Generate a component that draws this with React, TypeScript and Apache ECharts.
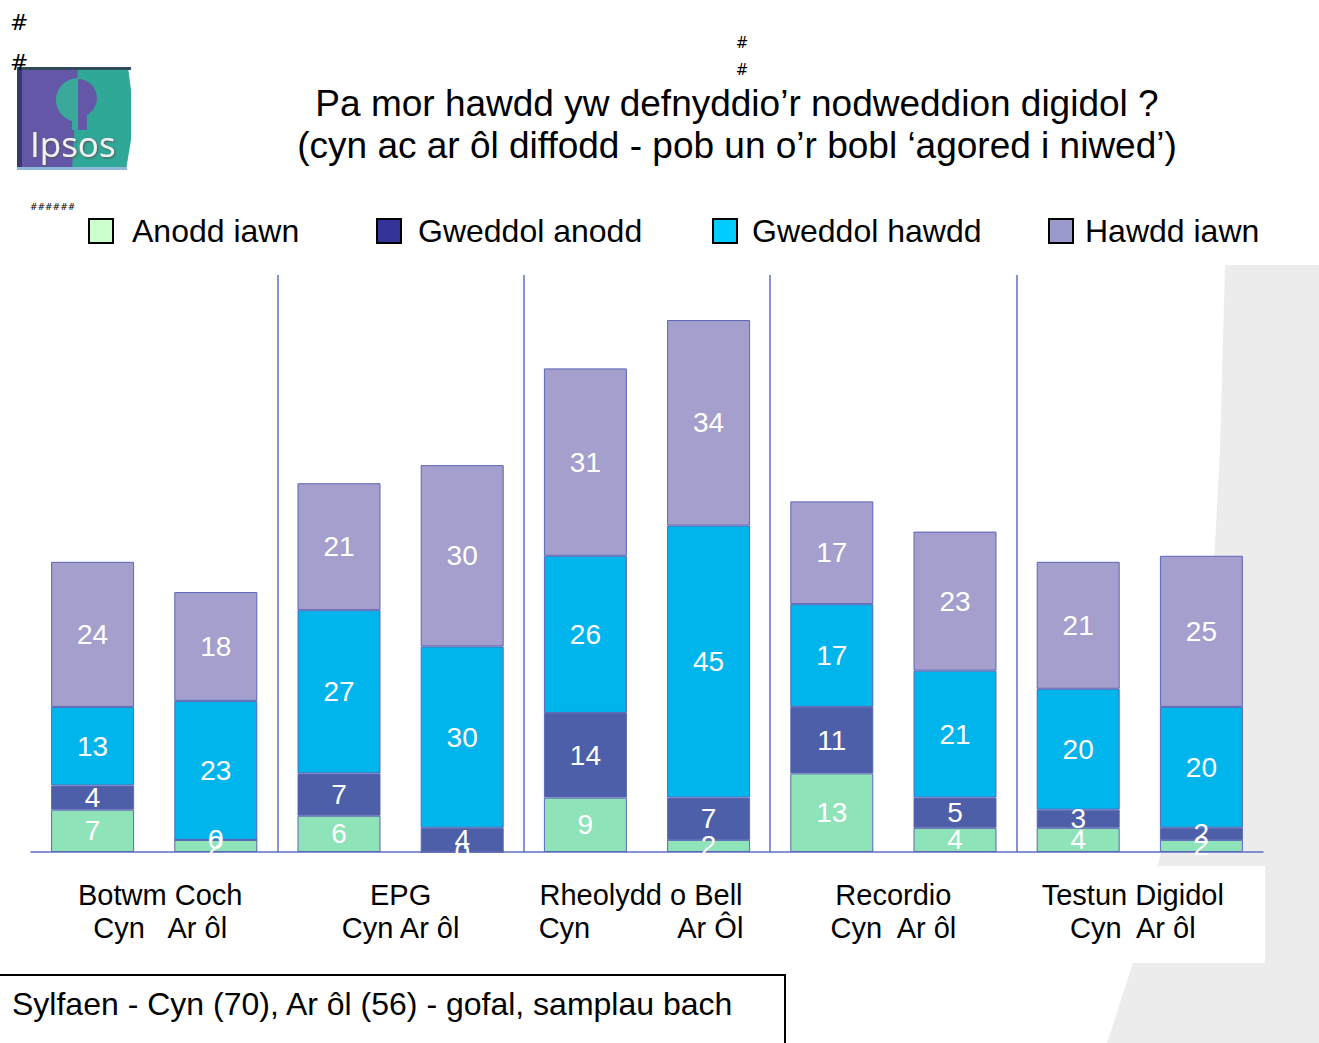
import React, { useEffect, useRef } from "react";
import * as echarts from "echarts";

const categories = [
  "Botwm Coch Cyn", "Botwm Coch Ar ôl",
  "EPG Cyn", "EPG Ar ôl",
  "Rheolydd o Bell Cyn", "Rheolydd o Bell Ar Ôl",
  "Recordio Cyn", "Recordio Ar ôl",
  "Testun Digidol Cyn", "Testun Digidol Ar ôl",
];
const groupLabels = [
  "Botwm Coch\nCyn   Ar ôl",
  "EPG\nCyn Ar ôl",
  "Rheolydd o Bell\nCyn           Ar Ôl",
  "Recordio\nCyn  Ar ôl",
  "Testun Digidol\nCyn  Ar ôl",
];
const seriesNames = ["Anodd iawn", "Gweddol anodd", "Gweddol hawdd", "Hawdd iawn"];
const anoddIawn = [7, 2, 6, 0, 9, 2, 13, 4, 4, 2];
const gweddolAnodd = [4, 0, 7, 4, 14, 7, 11, 5, 3, 2];
const gweddolHawdd = [13, 23, 27, 30, 26, 45, 17, 21, 20, 20];
const hawddIawn = [24, 18, 21, 30, 31, 34, 17, 23, 21, 25];
const seriesValues = [anoddIawn, gweddolAnodd, gweddolHawdd, hawddIawn];

const barColors = ["#8fe3b9", "#4d5fa8", "#00b4ec", "#a49fcc"];
const legendColors = ["#ccffcc", "#333399", "#00ccff", "#9999cc"];
const legendLefts = [88, 376, 712, 1048];
const legendTextGap = [14, 12, 10, 7];
const groupLabelPadding = [
  [0, 0, 0, 12],
  [0, 0, 0, 0],
  [0, 12, 0, 0],
  [0, 0, 0, 0],
  [0, 14, 0, 0],
];

const FONT = "Liberation Sans, Arial, sans-serif";

export default function App() {
  const ref = useRef<HTMLDivElement>(null);
  useEffect(() => {
    document.body.style.margin = "0";
    const chart = echarts.init(ref.current!, null, { renderer: "svg" });
    const axisColor = "#5b6fc2";
    const option: any = {
      animation: false,
      backgroundColor: "#ffffff",
      textStyle: { fontFamily: FONT },
      grid: { left: 31, right: 56, top: 275, bottom: 191, containLabel: false },
      legend: seriesNames.map((n, i) => ({
        data: [{ name: n, itemStyle: { color: legendColors[i], borderColor: "#000", borderWidth: 2 } }],
        left: legendLefts[i],
        top: 215,
        padding: 0,
        itemWidth: 24,
        itemHeight: 24,
        icon: "rect",
        selectedMode: false,
        textStyle: { fontSize: 32, color: "#000", fontFamily: FONT, padding: [0, 0, 0, legendTextGap[i]] },
      })),
      xAxis: [
        {
          type: "category",
          data: categories,
          axisLine: { show: false },
          axisTick: { show: false },
          axisLabel: { show: false },
          splitLine: { show: false },
        },
        {
          type: "category",
          data: groupLabels.map((g, i) => ({ value: g, textStyle: { padding: groupLabelPadding[i] } })),
          position: "bottom",
          axisLine: { show: true, lineStyle: { color: axisColor, width: 1.5 } },
          axisTick: { show: false },
          axisLabel: {
            interval: 0,
            color: "#000",
            fontSize: 29,
            lineHeight: 33,
            margin: 26,
            fontFamily: FONT,
            align: "center",
          },
          splitLine: {
            show: true,
            interval: 0,
            showMinLine: false,
            showMaxLine: false,
            lineStyle: { color: axisColor, width: 1.5 },
          },
        },
      ],
      yAxis: {
        type: "value",
        min: 0,
        max: 95.45,
        show: false,
        splitLine: { show: false },
      },
      series: seriesValues.map((vals, i) => ({
        name: seriesNames[i],
        type: "bar",
        stack: "total",
        xAxisIndex: 0,
        barWidth: 83,
        data: vals,
        itemStyle: { color: barColors[i], borderColor: "#5b66b5", borderWidth: 1 },
        label: {
          show: true,
          position: "inside",
          color: "#ffffff",
          fontSize: 28,
          fontFamily: FONT,
        },
      })),
      graphic: [
        {
          type: "polygon",
          z: -10,
          silent: true,
          shape: {
            points: [
              [1225, 265], [1319, 265], [1319, 1043], [1107, 1043], [1133, 963],
              [1163, 845], [1195, 720], [1212, 600], [1220, 450],
            ],
          },
          style: { fill: "#ececec" },
        },
        {
          type: "rect",
          z: -9,
          silent: true,
          shape: { x: 700, y: 866, width: 565, height: 97 },
          style: { fill: "#ffffff" },
        },
        // logo
        { type: "rect", shape: { x: 17, y: 67, width: 61, height: 103 }, style: { fill: "#6457a7" } },
        {
          type: "polygon",
          shape: { points: [[78, 67], [128, 67], [131, 90], [131, 140], [126, 170], [72, 170]] },
          style: { fill: "#30a898" },
        },
        { type: "rect", shape: { x: 17, y: 67, width: 5, height: 103 }, style: { fill: "#3a3670" } },
        { type: "rect", shape: { x: 17, y: 67, width: 114, height: 3 }, style: { fill: "#2f4a5a" } },
        { type: "rect", shape: { x: 17, y: 167, width: 110, height: 3 }, style: { fill: "#8fb8d8" } },
        {
          type: "sector",
          shape: { cx: 78, cy: 100, r0: 0, r: 22, startAngle: Math.PI / 2, endAngle: (3 * Math.PI) / 2 },
          style: { fill: "#3aa89a" },
        },
        {
          type: "sector",
          shape: { cx: 78, cy: 98, r0: 0, r: 19, startAngle: -Math.PI / 2, endAngle: Math.PI / 2 },
          style: { fill: "#6457a7" },
        },
        { type: "rect", shape: { x: 72, y: 115, width: 6, height: 15 }, style: { fill: "#3aa89a" } },
        { type: "rect", shape: { x: 78, y: 115, width: 9, height: 15 }, style: { fill: "#6457a7" } },
        {
          type: "text",
          x: 30,
          y: 143,
          style: {
            text: "Ipsos",
            font: "35px 'Open Sans', sans-serif",
            fill: "#f2f2f2",
            textVerticalAlign: "middle",
            textShadowColor: "#555",
            textShadowBlur: 2,
            textShadowOffsetX: 1,
            textShadowOffsetY: 1,
          },
        },
        // hash marks
        { type: "text", x: 10, y: 22, style: { text: "#", font: "22px 'DejaVu Sans', sans-serif", fill: "#000", textVerticalAlign: "middle" } },
        { type: "text", x: 10, y: 62, style: { text: "#", font: "22px 'DejaVu Sans', sans-serif", fill: "#000", textVerticalAlign: "middle" } },
        { type: "text", x: 742, y: 43, style: { text: "#", font: "15px 'DejaVu Sans', sans-serif", fill: "#000", textAlign: "center", textVerticalAlign: "middle" } },
        { type: "text", x: 742, y: 70, style: { text: "#", font: "15px 'DejaVu Sans', sans-serif", fill: "#000", textAlign: "center", textVerticalAlign: "middle" } },
        { type: "text", x: 30, y: 207, style: { text: "######", font: "9px 'DejaVu Sans', sans-serif", fill: "#000", textVerticalAlign: "middle" } },
        // title
        {
          type: "text",
          x: 737,
          y: 103,
          style: {
            text: "Pa mor hawdd yw defnyddio’r nodweddion digidol ?",
            font: `37px ${FONT}`,
            fill: "#000",
            textAlign: "center",
            textVerticalAlign: "middle",
          },
        },
        {
          type: "text",
          x: 737,
          y: 145,
          style: {
            text: "(cyn ac ar ôl diffodd - pob un o’r bobl ‘agored i niwed’)",
            font: `37px ${FONT}`,
            fill: "#000",
            textAlign: "center",
            textVerticalAlign: "middle",
          },
        },
        // base note
        {
          type: "rect",
          shape: { x: -2, y: 975, width: 787, height: 80 },
          style: { fill: "#ffffff", stroke: "#000", lineWidth: 2 },
        },
        {
          type: "text",
          x: 12,
          y: 1004,
          style: {
            text: "Sylfaen - Cyn (70), Ar ôl (56) - gofal, samplau bach",
            font: `32px ${FONT}`,
            fill: "#000",
            textVerticalAlign: "middle",
          },
        },
      ],
    };
    chart.setOption(option);
    return () => chart.dispose();
  }, []);
  return <div ref={ref} style={{ width: 1319, height: 1043 }} />;
}
